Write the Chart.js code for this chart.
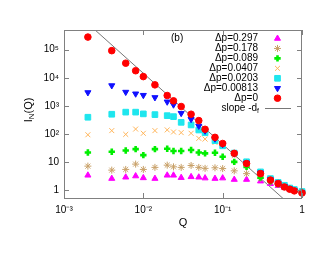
<!DOCTYPE html>
<html lang="en">
<head>
  <meta charset="UTF-8" />
  <title>I_N(Q) vs Q</title>
  <script src="https://cdn.jsdelivr.net/npm/chart.js@4.4.0/dist/chart.umd.min.js"></script>
  <style>
    html, body { margin: 0; padding: 0; background: #fff; }
    #chart { display: block; }
  </style>
</head>
<body>
  <canvas id="chart" width="330" height="255"></canvas>
  <script>
    // wave vector values shared by all series
    const Q = [0.002, 0.004, 0.006, 0.008, 0.01, 0.014, 0.02, 0.024, 0.03, 0.04, 0.05, 0.06,
               0.08, 0.1, 0.14, 0.2, 0.3, 0.4, 0.5, 0.6, 0.7, 0.8, 1.0];

    const dp297   = [3.4, 2.6, 2.9, 3.2, 2.75, 2.6, 3.4, 3.4, 2.8, 3.0, 2.9, 2.7, 2.6, 2.7, 2.4, 2.4, 2.1, 1.7, 1.45, 1.25, 1.1, 0.98, 0.85];
    const dp178   = [7.2, 5.2, 5.5, 8.5, 5.5, 6.5, 7.8, 6.8, 6.5, 7.6, 6.5, 6.0, 6.3, 5.9, 4.9, 3.9, 2.7, 2.0, 1.6, 1.35, 1.15, 1.0, 0.88];
    const dp089   = [22, 23.3, 26, 29, 17.8, 29, 30, 25, 25, 27, 22, 20.5, 21.5, 15.5, 10.2, 6.8, 2.8, 2.1, 1.65, 1.35, 1.15, 1.0, 0.88];
    const dp0407  = [94, 132, 97, 150, 106, 132, 140, 118, 112, 106, 70, 66, 50, 36, 17, 8.2, 3.8, 2.4, 1.8, 1.4, 1.15, 1.0, 0.88];
    const dp0203  = [395, 505, 600, 600, 520, 490, 450, 415, 260, 210, 139, 111, 58, 38, 21, 10.3, 4.5, 2.6, 1.9, 1.5, 1.2, 1.06, 0.9];
    const dp00813 = [3000, 5300, 3100, 2700, 2400, 2000, 1400, 1100, 550, 335, 193, 130, 68, 43, 20, 9.4, 4.2, 2.4, 1.8, 1.38, 1.14, 0.98, 0.83];
    const dp0     = [280000, 92000, 33000, 17800, 11000, 5600, 2340, 1510, 950, 505, 300, 147, 76, 46, 20.5, 8.9, 3.9, 2.3, 1.74, 1.31, 1.09, 0.95, 0.80];

    // reference line of slope -d_f
    const slopeQ = [0.001, 1];
    const slopeI = [4.9e6, 0.127];

    const legendLabels = ["Δp=0.297", "Δp=0.178", "Δp=0.089", "Δp=0.0407", "Δp=0.0203", "Δp=0.00813", "Δp=0"];

    const xTicks = [0.001, 0.01, 0.1, 1];
    const xTickLabels = ["10⁻³", "10⁻²", "10⁻¹", "1"];
    const yTicks = [1, 10, 100, 1000, 10000, 100000];
    const yTickLabels = ["1", "10", "10²", "10³", "10⁴", "10⁵"];

    const FONT = '"Liberation Sans", Arial, Helvetica, sans-serif';
    const pts = (ys) => Q.map((q, i) => ({ x: q, y: ys[i] }));

    const series = [
      { label: legendLabels[0], data: pts(dp297),   pointStyle: "triangle", rotation: 0,   color: "#ff00ff", radius: 3.5, bw: 1, order: 6 },
      { label: legendLabels[1], data: pts(dp178),   pointStyle: "star",     rotation: 0,   color: "#c8a068", radius: 3.5, bw: 1, order: 5 },
      { label: legendLabels[2], data: pts(dp089),   pointStyle: "cross",    rotation: 0,   color: "#00ee00", radius: 3.2, bw: 2.6, order: 4 },
      { label: legendLabels[3], data: pts(dp0407),  pointStyle: "crossRot", rotation: 0,   color: "#ffb55a", radius: 3.5, bw: 1, order: 3 },
      { label: legendLabels[4], data: pts(dp0203),  pointStyle: "rect",     rotation: 0,   color: "#1ee6ee", radius: 4,   bw: 1, order: 2 },
      { label: legendLabels[5], data: pts(dp00813), pointStyle: "triangle", rotation: 180, color: "#1010ff", radius: 3.5, bw: 1, order: 1 },
      { label: legendLabels[6], data: pts(dp0),     pointStyle: "circle",   rotation: 0,   color: "#ff0000", radius: 3.3, bw: 1, order: 0 },
    ];

    const datasets = series.map(s => ({
      label: s.label,
      data: s.data,
      showLine: false,
      clip: false,
      pointStyle: s.pointStyle,
      rotation: s.rotation,
      pointRadius: s.radius,
      pointBorderWidth: s.bw,
      pointBackgroundColor: s.color,
      pointBorderColor: s.color,
      order: s.order,
    }));
    datasets.push({
      label: "slope -d_f",
      data: slopeQ.map((q, i) => ({ x: q, y: slopeI[i] })),
      showLine: true,
      borderColor: "#777",
      borderWidth: 1,
      pointRadius: 0,
      order: 7,
    });

    // frame, inward ticks, legend, labels (gnuplot look)
    const decor = {
      id: "decor",
      afterDraw(chart) {
        const ctx = chart.ctx;
        const a = chart.chartArea;
        const xs = chart.scales.x, ys = chart.scales.y;
        ctx.save();
        ctx.strokeStyle = "#808080";
        ctx.lineWidth = 1;
        ctx.strokeRect(a.left + 0.5, a.top + 0.5, a.right - a.left - 1, a.bottom - a.top);
        ctx.beginPath();
        xTicks.forEach(v => {
          const px = Math.round(xs.getPixelForValue(v)) + 0.5;
          ctx.moveTo(px, a.bottom); ctx.lineTo(px, a.bottom - 5);
          ctx.moveTo(px, a.top); ctx.lineTo(px, a.top + 5);
        });
        yTicks.forEach(v => {
          const py = Math.round(ys.getPixelForValue(v)) + 0.5;
          ctx.moveTo(a.left, py); ctx.lineTo(a.left + 5, py);
          ctx.moveTo(a.right, py); ctx.lineTo(a.right - 5, py);
        });
        ctx.stroke();

        // legend
        ctx.fillStyle = "#000";
        ctx.font = "10px " + FONT;
        ctx.textAlign = "right";
        ctx.textBaseline = "middle";
        const textRight = 258, symX = 277.5, row0 = 38.5, rowH = 9.95;
        series.forEach((s, i) => {
          const y = row0 + i * rowH;
          ctx.fillStyle = "#000";
          ctx.fillText(s.label, textRight, y);
          ctx.fillStyle = s.color;
          ctx.strokeStyle = s.color;
          ctx.lineWidth = s.bw;
          Chart.helpers.drawPoint(ctx, { pointStyle: s.pointStyle, rotation: s.rotation, radius: s.radius, borderWidth: s.bw }, symX, y);
        });
        const ly = row0 + 7 * rowH;
        ctx.fillStyle = "#000";
        ctx.font = "7px " + FONT;
        const wf = ctx.measureText("f").width;
        ctx.textAlign = "left";
        ctx.fillText("f", textRight + 1 - wf, ly + 3);
        ctx.font = "10px " + FONT;
        ctx.textAlign = "right";
        ctx.fillText("slope -d", textRight + 1 - wf, ly);
        ctx.strokeStyle = "#777";
        ctx.lineWidth = 1;
        ctx.beginPath();
        ctx.moveTo(265, Math.round(ly) + 0.5); ctx.lineTo(291, Math.round(ly) + 0.5);
        ctx.stroke();

        // panel tag
        ctx.textAlign = "left";
        ctx.fillText("(b)", 171, 38.5);

        // x title
        ctx.font = "11px " + FONT;
        ctx.textAlign = "center";
        ctx.fillText("Q", 183, 223);

        // y title, rotated, with subscript N
        ctx.translate(29, 110);
        ctx.rotate(-Math.PI / 2);
        ctx.textAlign = "left";
        ctx.font = "11px " + FONT;
        const wI = ctx.measureText("I").width, wQ = ctx.measureText("(Q)").width;
        ctx.font = "8px " + FONT;
        const wN = ctx.measureText("N").width;
        let x0 = -(wI + wN + wQ) / 2;
        ctx.font = "11px " + FONT;
        ctx.fillText("I", x0, 0);
        ctx.font = "8px " + FONT;
        ctx.fillText("N", x0 + wI, 3);
        ctx.font = "11px " + FONT;
        ctx.fillText("(Q)", x0 + wI + wN, 0);
        ctx.restore();
      }
    };

    new Chart(document.getElementById("chart"), {
      type: "scatter",
      data: { datasets },
      options: {
        responsive: false,
        animation: false,
        layout: { padding: { top: 30, right: 28, left: 0, bottom: 0 } },
        plugins: { legend: { display: false }, tooltip: { enabled: false } },
        scales: {
          x: {
            type: "logarithmic",
            min: 0.001, max: 1,
            afterBuildTicks: s => { s.ticks = xTicks.map(v => ({ value: v })); },
            afterFit: s => { s.height = 57; },
            grid: { display: false, drawTicks: false },
            border: { display: false },
            ticks: {
              autoSkip: false, maxRotation: 0, padding: 6,
              color: "#000", font: { family: FONT, size: 10 },
              callback: (v) => xTickLabels[xTicks.indexOf(v)] ?? "",
            },
          },
          y: {
            type: "logarithmic",
            min: 0.53, max: 5e5,
            afterBuildTicks: s => { s.ticks = yTicks.map(v => ({ value: v })); },
            afterFit: s => { s.width = 64; },
            grid: { display: false, drawTicks: false },
            border: { display: false },
            ticks: {
              autoSkip: false, padding: 5,
              color: "#000", font: { family: FONT, size: 10 },
              callback: (v) => yTickLabels[yTicks.indexOf(v)] ?? "",
            },
          },
        },
      },
      plugins: [decor],
    });
  </script>
</body>
</html>
